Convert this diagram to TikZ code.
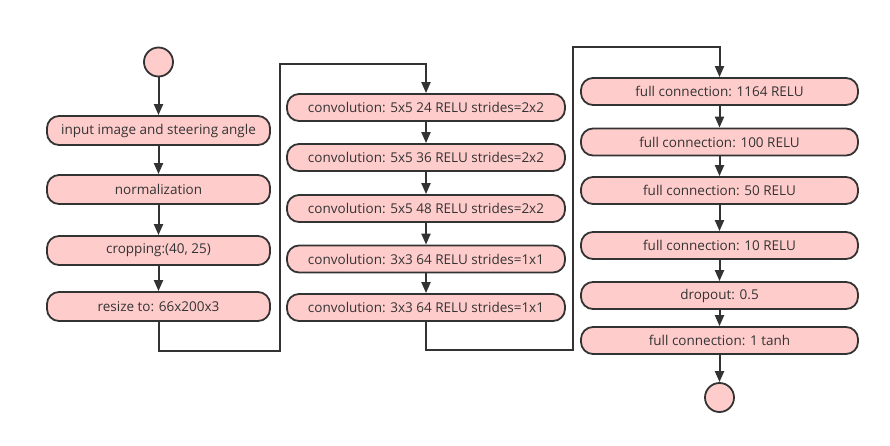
\documentclass[tikz,border=0pt]{standalone}
\usepackage{fontspec}
\setmainfont{Open Sans}
\usetikzlibrary{arrows.meta}
\definecolor{boxfill}{HTML}{FFCCCC}
\definecolor{ink}{HTML}{333333}
\tikzset{
  flowbox/.style={draw=ink, fill=boxfill, line width=1.8pt, rounded corners=12pt,
    inner sep=0pt, text=ink, font=\fontsize{13.5}{15}\selectfont},
  lbox/.style={flowbox, minimum width=223pt, minimum height=29pt},
  mbox/.style={flowbox, minimum width=278pt, minimum height=27pt},
  rbox/.style={flowbox, minimum width=277pt, minimum height=27pt},
  termcirc/.style={circle, draw=ink, fill=boxfill, line width=1.8pt, minimum size=29pt, inner sep=0pt},
  arr/.style={draw=ink, line width=2pt, -{Triangle[length=11pt,width=9pt]}}
}
\begin{document}
\begin{tikzpicture}[x=1pt,y=-1pt]
\useasboundingbox (0,0) rectangle (890,445);
% left column
\node[termcirc] (start) at (158.5,62) {};
\node[lbox] (in1) at (158.5,130.5) {input image and steering angle};
\node[lbox] (in2) at (158.5,189.5) {normalization};
\node[lbox] (in3) at (158.5,250.5) {cropping:(40, 25)};
\node[lbox] (in4) at (158.5,306.5) {resize to: 66x200x3};
% middle column
\node[mbox] (c1) at (426,107.5) {convolution: 5x5 24 RELU strides=2x2};
\node[mbox] (c2) at (426,157.5) {convolution: 5x5 36 RELU strides=2x2};
\node[mbox] (c3) at (426,208.5) {convolution: 5x5 48 RELU strides=2x2};
\node[mbox] (c4) at (426,259) {convolution: 3x3 64 RELU strides=1x1};
\node[mbox] (c5) at (426,307.5) {convolution: 3x3 64 RELU strides=1x1};
% right column
\node[rbox] (f1) at (719.5,91.5) {full connection: 1164 RELU};
\node[rbox] (f2) at (719.5,142) {full connection: 100 RELU};
\node[rbox] (f3) at (719.5,190.5) {full connection: 50 RELU};
\node[rbox] (f4) at (719.5,245.5) {full connection: 10 RELU};
\node[rbox] (f5) at (719.5,295.5) {dropout: 0.5};
\node[rbox] (f6) at (719.5,340.5) {full connection: 1 tanh};
\node[termcirc] (stop) at (719.5,397.5) {};
% routing points
\coordinate (a1) at (158.5,351);
\coordinate (a2) at (280,351);
\coordinate (a3) at (280,64);
\coordinate (a4) at (426,64);
\coordinate (b1) at (426,350);
\coordinate (b2) at (573,350);
\coordinate (b3) at (573,47);
\coordinate (b4) at (719.5,47);
% connectors
\draw[arr] (start) -- (in1);
\draw[arr] (in1) -- (in2);
\draw[arr] (in2) -- (in3);
\draw[arr] (in3) -- (in4);
\draw[arr] (in4.south) -- (a1) -- (a2) -- (a3) -- (a4) -- (c1.north);
\draw[arr] (c1) -- (c2);
\draw[arr] (c2) -- (c3);
\draw[arr] (c3) -- (c4);
\draw[arr] (c4) -- (c5);
\draw[arr] (c5.south) -- (b1) -- (b2) -- (b3) -- (b4) -- (f1.north);
\draw[arr] (f1) -- (f2);
\draw[arr] (f2) -- (f3);
\draw[arr] (f3) -- (f4);
\draw[arr] (f4) -- (f5);
\draw[arr] (f5) -- (f6);
\draw[arr] (f6) -- (stop);
\end{tikzpicture}
\end{document}
